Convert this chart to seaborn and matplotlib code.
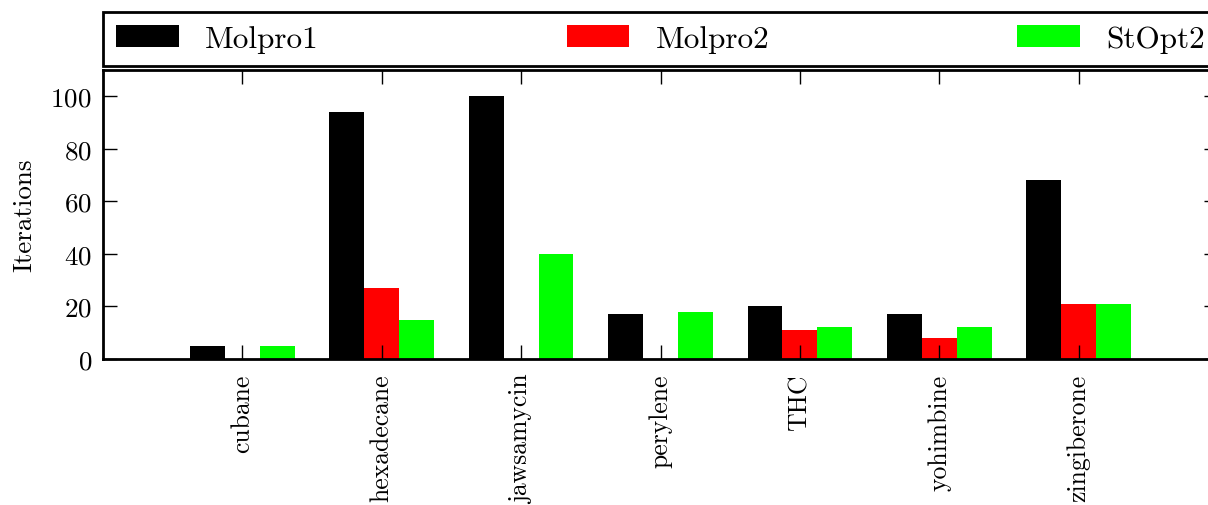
import matplotlib
matplotlib.use("Agg")
import matplotlib.pyplot as plt
import seaborn as sns
import pandas as pd
import numpy as np

molecules = ["cubane", "hexadecane", "jawsamycin", "perylene", "THC", "yohimbine", "zingiberone"]
series_names = ["Molpro1", "Molpro2", "StOpt2"]
molpro1 = [5, 94, 100, 17, 20, 17, 68]
molpro2 = [np.nan, 27, np.nan, np.nan, 11, 8, 21]
stopt2 = [5, 15, 40, 18, 12, 12, 21]
colors = ["#000000", "#ff0000", "#00ff00"]

rows = []
for name, vals in zip(series_names, [molpro1, molpro2, stopt2]):
    for m, v in zip(molecules, vals):
        rows.append({"molecule": m, "method": name, "iterations": v})
df = pd.DataFrame(rows)

plt.rcParams["font.family"] = ["cmr10", "DejaVu Serif"]
plt.rcParams["axes.formatter.use_mathtext"] = True
plt.rcParams["mathtext.fontset"] = "cm"

fig = plt.figure(figsize=(12.08, 5.06), dpi=100)
ax = fig.add_axes([103 / 1208, 1 - 360 / 506, (1218 - 103) / 1208, (360 - 71) / 506])

sns.barplot(data=df, x="molecule", y="iterations", hue="method",
            order=molecules, hue_order=series_names, palette=colors,
            width=0.75, errorbar=None, linewidth=0, saturation=1, ax=ax)

ax.set_xlim(-1, 7)
ax.set_ylim(0, 110)
ax.set_yticks([0, 20, 40, 60, 80, 100])
ax.set_xlabel("")
ax.set_ylabel("Iterations", fontsize=19.5, labelpad=10.5)
ax.tick_params(axis="both", direction="in", length=10, width=1,
               top=True, right=True, color="black")
ax.tick_params(axis="x", pad=10.5, labelsize=18.5)
ax.tick_params(axis="y", pad=8, labelsize=19.5)
for lbl in ax.get_xticklabels():
    lbl.set_rotation(90)
    lbl.set_va("top")
for s in ax.spines.values():
    s.set_linewidth(2)
    s.set_color("black")

handles, labels = ax.get_legend_handles_labels()
ax.legend(handles, labels, loc="lower left", bbox_to_anchor=(0, 1.014, 1, 0.19),
          mode="expand", ncol=3, fontsize=22.5, frameon=True, fancybox=False,
          edgecolor="black", framealpha=1, borderaxespad=0, borderpad=0.42,
          handlelength=2.0, handleheight=0.7, handletextpad=0.85)
leg = ax.get_legend()
leg.get_frame().set_linewidth(2)

fig.savefig("out.png", dpi=100)
